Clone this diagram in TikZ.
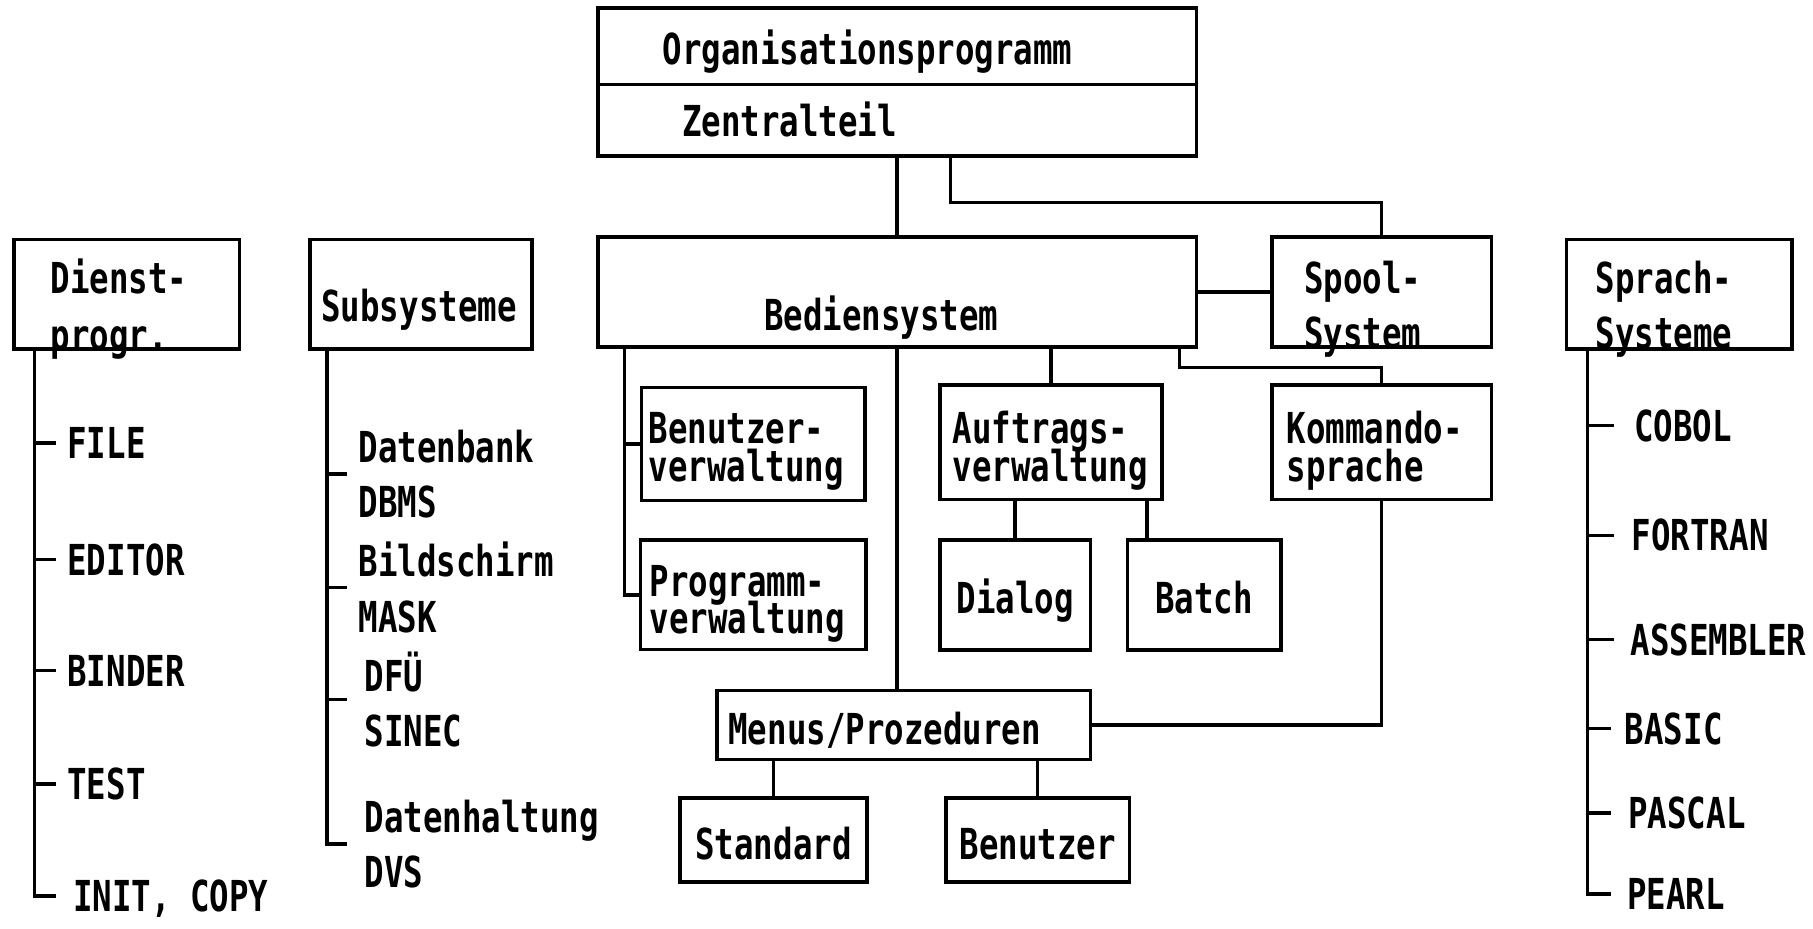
\documentclass[tikz,border=0pt]{standalone}
\usepackage{fontspec}
\newfontfamily\boxfont[FakeStretch=0.76]{DejaVu Sans Mono}
\newcommand\lettering{\boxfont\bfseries\fontsize{21pt}{18.7pt}\selectfont\lineskiplimit=-1cm\relax}
\usepackage{tikz}
\usetikzlibrary{positioning}
\tikzset{
  sysbox/.style={rectangle, draw=black, line width=1.7pt, inner sep=0pt, outer sep=0pt,
                 align=left, font=\lettering, anchor=north west,
                 text height=0.64cm, text depth=0pt},
  oneline/.style={text height=#1, text depth=0pt},
  twoline/.style={text height=0.6cm, text depth=#1},
  entry/.style={anchor=west, inner xsep=0.2cm, inner ysep=0pt,
                align=left, font=\lettering},
  entryone/.style={entry, text height=0.54cm, text depth=0pt},
  link/.style={line width=1.7pt, draw=black},
}

\begin{document}
\begin{tikzpicture}[x=0.02cm, y=-0.02cm]
  \useasboundingbox (0,0) rectangle (1568,803);

  % Organisationsprogramm und Bediensystem
  \node[sysbox, minimum width=10.36cm, minimum height=1.32cm, text width=8.12cm, oneline=0.62cm]
       (org) at (517,7) {Organisationsprogramm};
  \node[sysbox, below=0pt of org, minimum width=10.36cm, minimum height=1.24cm, text width=7.44cm, oneline=0.58cm]
       (zentral) {Zentralteil};
  \node[sysbox, minimum width=10.36cm, minimum height=1.9cm, text width=4.6cm, oneline=1.32cm]
       (bedien) at (517,205) {Bediensystem};
  \node[sysbox, minimum width=3.8cm, minimum height=1.9cm, text width=2.68cm, twoline=0.56cm]
       (spool) at (1100,205) {Spool-\\[0.3cm]System};
  \node[sysbox, below=0.66cm of spool, minimum width=3.8cm, minimum height=1.98cm, text width=3.28cm, twoline=0.56cm]
       (kommando) {Kommando-\\sprache};

  \node[sysbox, minimum width=3.86cm, minimum height=1.96cm, text width=3.62cm, twoline=0.62cm]
       (benutzerv) at (555,335) {Benutzer-\\verwaltung};
  \node[sysbox, below=0.68cm of benutzerv, minimum width=3.9cm, minimum height=1.9cm, text width=3.58cm, twoline=0.56cm]
       (programm) {Programm-\\verwaltung};
  \node[sysbox, minimum width=3.84cm, minimum height=1.98cm, text width=3.4cm, twoline=0.56cm]
       (auftrags) at (813,333) {Auftrags-\\verwaltung};
  \node[sysbox, minimum width=2.6cm, minimum height=1.9cm, oneline=0.64cm]
       (dialog) at (813,467) {Dialog};
  \node[sysbox, right=0.64cm of dialog, minimum width=2.66cm, minimum height=1.9cm, oneline=0.64cm]
       (batch) {Batch};
  \node[sysbox, minimum width=6.46cm, minimum height=1.2cm, text width=6.06cm, oneline=0.66cm]
       (menus) at (620,597) {Menus/Prozeduren};
  \node[sysbox, minimum width=3.24cm, minimum height=1.46cm, oneline=0.68cm]
       (standard) at (588,690) {Standard};
  \node[sysbox, right=1.36cm of standard, minimum width=3.18cm, minimum height=1.46cm, oneline=0.68cm]
       (benutzer) {Benutzer};

  \draw[link] (zentral.south) -- (bedien.north);
  \draw[link] ([xshift=0.92cm]zentral.south) -- ++(0,40) -| (spool.north);
  \draw[link] (bedien.east) -- (spool.west);
  \draw[link] ([xshift=-0.3cm]bedien.south east) -- ++(0,18) -| (kommando.north);
  \coordinate (btrunk) at ([xshift=0.46cm]bedien.south west);
  \draw[link] (btrunk) |- (programm.west);
  \draw[link] (btrunk |- benutzerv.west) -- (benutzerv.west);
  \draw[link] (bedien.south) -- (bedien.south |- menus.north);
  \draw[link] (bedien.south -| auftrags.north) -- (auftrags.north);
  \draw[link] (auftrags.south -| dialog.north) -- (dialog.north);
  \coordinate (abatch) at ([xshift=-0.26cm]auftrags.south east);
  \draw[link] (abatch) -- (abatch |- batch.north);
  \draw[link] (kommando.south) |- (menus.east);
  \draw[link] (menus.south -| standard.north) -- (standard.north);
  \draw[link] (menus.south -| benutzer.north) -- (benutzer.north);

  % Dienstprogramme
  \node[sysbox, minimum width=3.9cm, minimum height=1.9cm, text width=2.62cm, twoline=0.64cm]
       (dienst) at (12,207) {Dienst-\\[0.34cm]progr.};
  \node[entryone] (file)     at (48,383) {FILE};
  \node[entryone] (editor)   at (48,484) {EDITOR};
  \node[entryone] (binder)   at (48,580) {BINDER};
  \node[entryone] (test)     at (48,678) {TEST};
  \node[entryone, inner xsep=0.3cm] (initcopy) at (48,775) {INIT, COPY};
  \coordinate (dtrunk) at ([xshift=0.36cm]dienst.south west);
  \draw[link] (dtrunk) |- (initcopy.west);
  \foreach \n in {file,editor,binder,test}
    \draw[link] (dtrunk |- \n.west) -- (\n.west);

  % Subsysteme
  \node[sysbox, minimum width=3.84cm, minimum height=1.9cm, text width=3.44cm, oneline=0.96cm]
       (subsys) at (268,207) {Subsysteme};
  \node[entry] (datenbank)    at (300,410) {Datenbank\\[0.3cm]DBMS};
  \node[entry] (bildschirm)   at (300,508) {Bildschirm\\[0.3cm]MASK};
  \node[entry, inner xsep=0.3cm] (dfue)         at (300,605) {DFÜ\\[0.3cm]SINEC};
  \node[entry, inner xsep=0.3cm] (datenhaltung) at (300,730) {Datenhaltung\\[0.3cm]DVS};
  \coordinate (strunk) at ([xshift=0.3cm]subsys.south west);
  \draw[link] (strunk) |- (datenhaltung.west);
  \foreach \n in {datenbank,bildschirm,dfue}
    \draw[link] (strunk |- \n.west) -- (\n.west);

  % Sprachsysteme
  \node[sysbox, minimum width=3.9cm, minimum height=1.9cm, text width=2.9cm, twoline=0.64cm]
       (sprach) at (1355,207) {Sprach-\\[0.3cm]Systeme};
  \node[entryone, inner xsep=0.34cm] (cobol)     at (1396,368) {COBOL};
  \node[entryone, inner xsep=0.3cm]  (fortran)   at (1396,463) {FORTRAN};
  \node[entryone, inner xsep=0.28cm] (assembler) at (1396,553) {ASSEMBLER};
  \node[entryone, inner xsep=0.24cm] (basic)     at (1393,630) {BASIC};
  \node[entryone, inner xsep=0.3cm]  (pascal)    at (1393,703) {PASCAL};
  \node[entryone, inner xsep=0.28cm] (pearl)     at (1393,773) {PEARL};
  \coordinate (ltrunk) at ([xshift=0.36cm]sprach.south west);
  \draw[link] (ltrunk) |- (pearl.west);
  \foreach \n in {cobol,fortran,assembler,basic,pascal}
    \draw[link] (ltrunk |- \n.west) -- (\n.west);

\end{tikzpicture}
\end{document}
